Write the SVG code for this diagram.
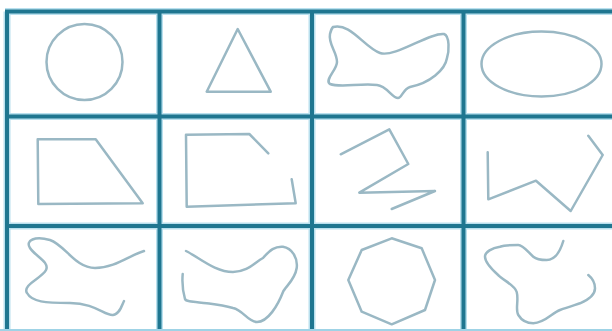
<svg xmlns="http://www.w3.org/2000/svg" width="612" height="331" viewBox="0 0 612 331">
<style>
.halo{stroke:#b9e0ee;stroke-width:7;fill:none}
.grid{stroke:#1f7690;stroke-width:4;fill:none}
.sh{stroke:#9ab8c4;stroke-width:2.5;fill:none;stroke-linejoin:round;stroke-linecap:round}
</style>
<rect width="612" height="331" fill="#ffffff"/>
<g id="grid">
<path class="halo" d="M7,11.5V331M159.5,11.5V331M312,11.5V331M463.5,11.5V331M5,11.5H612M5,116.5H612M5,226H612"/>
<path class="grid" d="M7,9.5V331M159.5,11.5V331M312,11.5V331M463.5,11.5V331M5,11.5H612M5,116.5H612M5,226H612"/>
<line x1="0" y1="330" x2="612" y2="330" stroke="#9fd3e6" stroke-width="2"/>
</g>
<g id="cell-circle"><circle class="sh" cx="84.5" cy="62" r="38"/></g>
<g id="cell-triangle"><polygon class="sh" points="237.7,29 206.7,91.7 270.7,91.7"/></g>
<g id="cell-blob"><path class="sh" d="M333,27 C350,22 365,48 380,53 C395,58 430,32 444,34 C450,36 449,52 447,58 C445,70 430,83 410,87 C403,89 402,98 398,98 C392,98 387,86 377,85 C360,83 340,88 330,84 C324,80 337,70 337,62 C337,52 328,44 330,34 C331,30 332,28 333,27 Z"/></g>
<g id="cell-ellipse"><ellipse class="sh" cx="541.5" cy="64" rx="60" ry="32.5"/></g>
<g id="cell-trapezoid"><polygon class="sh" points="37.7,139.3 95.7,139.3 142.7,203.3 38.3,204"/></g>
<g id="cell-open-polygon"><polyline class="sh" points="268.3,153.3 249.3,134 186,134.7 186.7,206.7 295.7,203.3 291.7,179.3"/></g>
<g id="cell-zigzag"><polyline class="sh" points="340.7,154.3 389.3,129.3 408.3,164 359.3,192.7 435,191 391.7,209"/></g>
<g id="cell-w"><polyline class="sh" points="487.7,152.3 488.3,199.3 536,180.7 570.7,211 602.7,155 588.3,135.7"/></g>
<g id="cell-curve1"><path class="sh" d="M144,251 C130,255 115,268 95,268 C75,268 65,245 50,240 C35,236 25,240 30,248 C35,256 50,262 46,270 C42,278 22,285 27,293 C32,302 45,303 70,303 C95,303 105,316 113,315 C120,314 122,305 124,301"/></g>
<g id="cell-curve2"><path class="sh" d="M186,251 C200,258 215,272 233,272 C248,272 255,262 263,258 C270,250 275,246 283,246.7 C292,248 298,258 296.7,268 C295,280 285,287 283,292 C278,305 268,322 257,322 C248,322 243,310 233,308 C222,305 212,304 206.7,303.3 C196,302 186,302 185,299 C183,292 182,282 182.7,274"/></g>
<g id="cell-octagon"><polygon class="sh" points="391.7,238.3 421.7,248.3 435,280 425,310 391.7,324.3 361.7,311.7 348.3,280 361.7,250"/></g>
<g id="cell-curve4"><path class="sh" d="M563.3,241 C560,252 555,260 546.7,260 C540,260 536,259 533.3,256.7 C528,252 523,245 518.3,245 C512,245 505,245 500,246.7 C492,248 485,252 485,256.7 C485,264 495,272 500,276.7 C508,283 515,286 516.7,292 C519,300 515,310 518.3,315 C522,321 528,323.3 533.3,323.3 C545,323 552,313 560,310 C568,307 575,305 580,303.3 C588,300 595,295 595,288.3 C595,282 592,278 588.3,275"/></g>
</svg>
